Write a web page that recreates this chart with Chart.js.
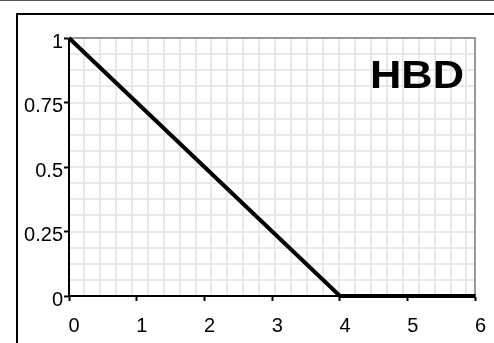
<!DOCTYPE html>
<html>
<head>
<meta charset="utf-8">
<script src="https://cdn.jsdelivr.net/npm/chart.js@4.4.0/dist/chart.umd.min.js"></script>
<style>
  html, body { margin: 0; padding: 0; background: #fff; }
  #wrap { position: relative; width: 494px; height: 343px; overflow: hidden; }
  #topline { position: absolute; left: 0; top: 0; width: 494px; height: 1px; background: #555; }
  #frameTop { position: absolute; left: 16px; top: 13px; width: 478px; height: 2px; background: #000; }
  #frameLeft { position: absolute; left: 16px; top: 13px; width: 2px; height: 330px; background: #000; }
  canvas { position: absolute; left: 0; top: 0; }
</style>
</head>
<body>
<div id="wrap">
  <canvas id="c" width="494" height="343"></canvas>
  <div id="topline"></div>
  <div id="frameTop"></div>
  <div id="frameLeft"></div>
</div>
<script>
// ---- data ----
const xValues = [0, 4, 6];
const yValues = [1, 0, 0];
const xTicks = [0, 1, 2, 3, 4, 5, 6];
const yTicks = [0, 0.25, 0.5, 0.75, 1];
const yTickLabels = ['0', '0.25', '0.5', '0.75', '1'];
const xTickLabels = ['0', '1', '2', '3', '4', '5', '6'];
const chartLabel = 'HBD';

const points = xValues.map((x, i) => ({ x: x, y: yValues[i] }));

const labelPlugin = {
  id: 'hbdLabel',
  afterDraw(chart) {
    const ctx = chart.ctx;
    ctx.save();
    ctx.font = 'bold 38px "Liberation Sans", Arial, sans-serif';
    ctx.fillStyle = '#000';
    ctx.textAlign = 'left';
    ctx.textBaseline = 'alphabetic';
    const w = ctx.measureText(chartLabel).width;
    const sx = 94 / w;
    ctx.translate(370, 88);
    ctx.scale(sx, 1);
    ctx.fillText(chartLabel, 0, 0);
    ctx.restore();
  }
};

const tickFont = { family: '"Liberation Sans", Arial, sans-serif', size: 20 };

new Chart(document.getElementById('c'), {
  type: 'scatter',
  data: {
    datasets: [{
      data: points,
      showLine: true,
      borderColor: '#000',
      borderWidth: 4,
      pointRadius: 0,
      pointHoverRadius: 0,
      tension: 0,
      clip: false
    }]
  },
  options: {
    responsive: false,
    animation: false,
    events: [],
    layout: { padding: { left: 0, top: 38, right: 17, bottom: 0 } },
    plugins: { legend: { display: false }, tooltip: { enabled: false }, title: { display: false } },
    scales: {
      x: {
        type: 'linear', position: 'bottom', min: 0, max: 6,
        afterBuildTicks: s => { s.ticks = xTicks.map(v => ({ value: v })); },
        afterFit: s => { s.height = 47; },
        grid: { display: true, drawOnChartArea: false, drawTicks: true, tickLength: 5, tickColor: '#000', tickWidth: 2 },
        border: { display: true, color: '#000', width: 2 },
        ticks: {
          color: '#000', font: tickFont,
          padding: 13, labelOffset: 5, maxRotation: 0, autoSkip: false,
          callback: (v, i) => xTickLabels[i]
        }
      },
      y: {
        type: 'linear', position: 'left', min: 0, max: 1,
        afterBuildTicks: s => { s.ticks = yTicks.map(v => ({ value: v })); },
        afterFit: s => { s.width = 69; },
        grid: { display: true, drawOnChartArea: false, drawTicks: true, tickLength: 5, tickColor: '#000', tickWidth: 2 },
        border: { display: true, color: '#000', width: 2 },
        ticks: {
          color: '#000', font: tickFont,
          padding: 1, labelOffset: 4, autoSkip: false,
          callback: (v, i) => yTickLabels[i]
        }
      },
      xg: {
        type: 'linear', position: 'top', min: -0.9375, max: 24.5625,
        afterFit: s => { s.height = 0; },
        grid: { display: true, drawOnChartArea: true, drawTicks: false, color: '#e8e8e8', lineWidth: 2 },
        border: { display: true, color: '#999', width: 2 },
        ticks: { display: false, stepSize: 1, includeBounds: false }
      },
      yg: {
        type: 'linear', position: 'right', min: 0, max: 16,
        afterFit: s => { s.width = 0; },
        grid: { display: true, drawOnChartArea: true, drawTicks: false, color: '#e8e8e8', lineWidth: 2 },
        border: { display: true, color: '#999', width: 2 },
        ticks: { display: false, stepSize: 1, includeBounds: false }
      }
    }
  },
  plugins: [labelPlugin]
});
</script>
</body>
</html>
